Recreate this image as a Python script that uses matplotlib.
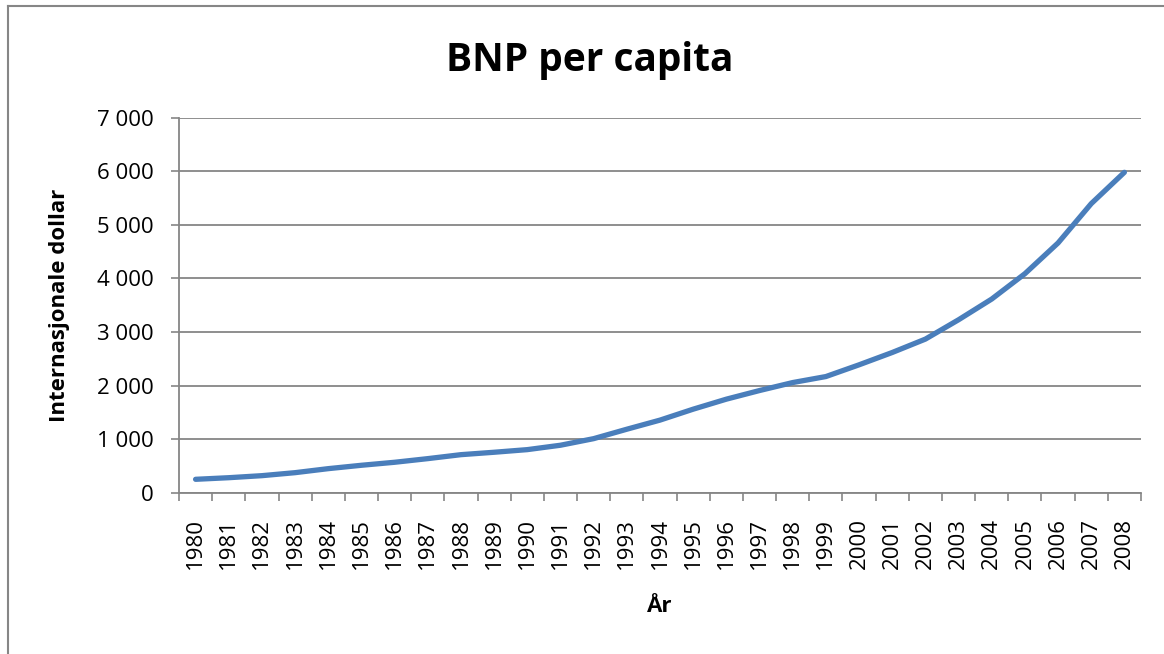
import matplotlib
matplotlib.use("Agg")
import matplotlib.pyplot as plt
from matplotlib.lines import Line2D

years = [str(y) for y in range(1980, 2009)]
gdp = [250, 280, 318, 374, 449, 512, 568, 636, 710, 755, 804, 886, 1009, 1185,
       1355, 1559, 1746, 1907, 2056, 2168, 2387, 2617, 2867, 3228, 3615, 4088,
       4662, 5396, 5981]
yticks = [0, 1000, 2000, 3000, 4000, 5000, 6000, 7000]
ytick_labels = ["0", "1 000", "2 000", "3 000", "4 000", "5 000", "6 000", "7 000"]

title = "BNP per capita"
xlabel = "År"
ylabel = "Internasjonale dollar"

FONT = ["Open Sans", "DejaVu Sans"]
plt.rcParams['font.family'] = FONT
grid_c = "#868686"

fig = plt.figure(figsize=(11.64, 6.54), dpi=100)
ax = fig.add_axes([179 / 1164, 1 - 492.7 / 654, (1141 - 179) / 1164, (492.7 - 117.7) / 654])

x = list(range(len(years)))
ax.plot(x, gdp, color="#4A7EBB", lw=3.8, solid_capstyle="round", solid_joinstyle="round", zorder=3)

ax.set_xlim(-0.5, len(years) - 0.5)
ax.set_ylim(0, 7000)
ax.set_yticks(yticks)
ax.set_yticklabels(ytick_labels, fontsize=16)
ax.set_xticks(x)
ax.set_xticklabels(years, rotation=90, fontsize=16)
ax.set_xticks([i - 0.5 for i in range(len(years) + 1)], minor=True)
ax.tick_params(axis="x", which="major", length=0, pad=18)
ax.tick_params(axis="x", which="minor", length=6, width=1.2, color=grid_c, direction="out")
ax.tick_params(axis="y", which="major", length=6, width=1.2, color=grid_c, pad=12)

ax.yaxis.grid(True, color=grid_c, lw=1.3)
ax.set_axisbelow(True)
for s in ["top", "right"]:
    ax.spines[s].set_visible(False)
for s in ["left", "bottom"]:
    ax.spines[s].set_color(grid_c)
    ax.spines[s].set_linewidth(1.3)

fig.text(590 / 1164, 1 - 60 / 654, title, ha="center", va="center", fontsize=28, fontweight="bold")
fig.text(660 / 1164, 1 - 607 / 654, xlabel, ha="center", va="center", fontsize=16, fontweight="bold")
fig.text(60 / 1164, 1 - 305 / 654, ylabel, ha="center", va="center", rotation=90, fontsize=16, fontweight="bold")

fig.add_artist(Line2D([8 / 1164, 8 / 1164], [0, 1 - 6 / 654], transform=fig.transFigure, color=grid_c, lw=1.5))
fig.add_artist(Line2D([8 / 1164, 1], [1 - 6 / 654, 1 - 6 / 654], transform=fig.transFigure, color=grid_c, lw=1.5))

fig.savefig("out.png", dpi=100)
